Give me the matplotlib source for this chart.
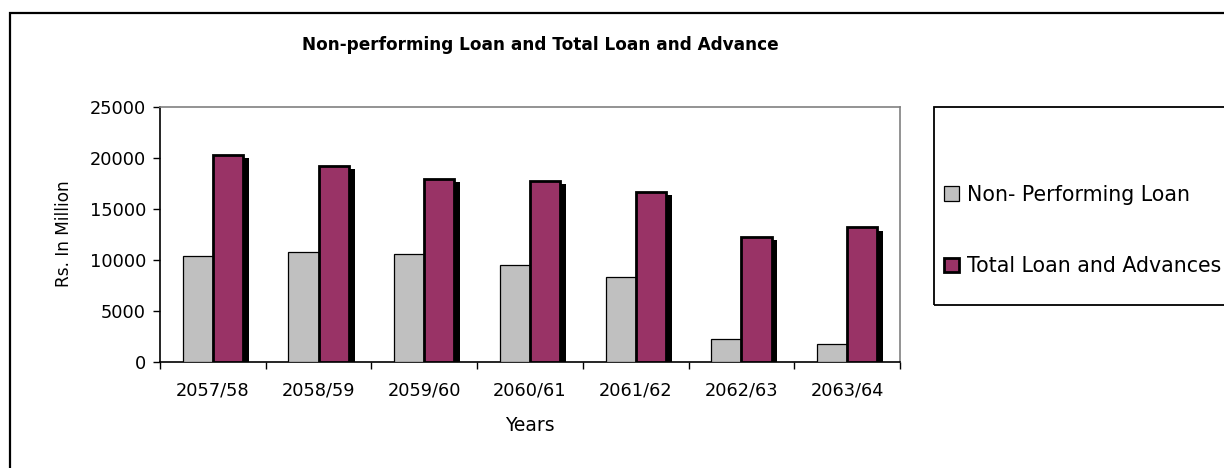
"""
Non-performing loan vs. total loan and advance, 2057/58 - 2063/64.
Clustered bar chart in the old spreadsheet style (shadowed bars, boxed legend).
"""

import numpy as np
import matplotlib
matplotlib.use("Agg")
import matplotlib.pyplot as plt
from matplotlib.patches import Rectangle

# ── Data (Rs. in million) ─────────────────────────────────────────────────────

years = ["2057/58", "2058/59", "2059/60", "2060/61", "2061/62", "2062/63", "2063/64"]
npl = [10350, 10750, 10550, 9450, 8250, 2200, 1700]
total_loan = [20250, 19200, 17900, 17700, 16650, 12250, 13150]

series_labels = ["Non- Performing Loan", "Total Loan and Advances"]
y_ticks = [0, 5000, 10000, 15000, 20000, 25000]

GREY = "#C0C0C0"
PLUM = "#993366"
FS = 12.8

plt.rcParams["font.family"] = ["DejaVu Sans"]

W, H = 1224, 468
fig = plt.figure(figsize=(W / 100, H / 100), dpi=100)

# outer chart frame (runs off the right and bottom edges)
fig.patches.append(Rectangle((10 / W, -0.2), 1.2, 1.2 - 13 / H,
                             transform=fig.transFigure, fill=False,
                             edgecolor="black", linewidth=1.6, clip_on=False))

ax = fig.add_axes([160 / W, 1 - 361.7 / H, 740 / W, 255.2 / H])

x = np.arange(len(years))
w = 1 / 3.5  # gap width 150%

# ── Bars ──────────────────────────────────────────────────────────────────────
b1 = ax.bar(x - w / 2, npl, width=w, color=GREY, edgecolor="black",
            linewidth=0.9, zorder=3)
# drop shadow behind the total bars
ax.bar(x + w / 2 + 0.055, np.array(total_loan) - 300, width=w, color="black",
       linewidth=0, zorder=2)
b2 = ax.bar(x + w / 2, total_loan, width=w, color=PLUM, edgecolor="black",
            linewidth=2.0, zorder=3)

# ── Axes ──────────────────────────────────────────────────────────────────────
ax.set_xlim(-0.5, len(years) - 0.5)
ax.set_ylim(0, 25000)
ax.set_yticks(y_ticks)
ax.set_yticklabels([str(t) for t in y_ticks], fontsize=FS)
ax.set_xticks(x)
ax.set_xticklabels(years, fontsize=FS)
ax.tick_params(axis="x", length=0, pad=14)
ax.set_xticks(np.arange(len(years) + 1) - 0.5, minor=True)
ax.tick_params(axis="x", which="minor", length=5, width=1, direction="out")
ax.tick_params(axis="y", length=5, width=1, direction="out", pad=5)

for side in ("left", "bottom"):
    ax.spines[side].set_color("black")
    ax.spines[side].set_linewidth(1.2)
for side in ("top", "right"):
    ax.spines[side].set_color("#808080")
    ax.spines[side].set_linewidth(1.2)

ax.set_xlabel("Years", fontsize=13.5, labelpad=12)
ax.set_ylabel("Rs. In Million", fontsize=12.2, labelpad=12)

fig.text(540 / W, 1 - 45 / H, "Non-performing Loan and Total Loan and Advance",
         ha="center", va="center", fontsize=12.2, fontweight="bold")

# ── Legend ────────────────────────────────────────────────────────────────────
fig.patches.append(Rectangle((934 / W, 1 - 305 / H), 0.4, 198 / H,
                             transform=fig.transFigure, fill=False,
                             edgecolor="black", linewidth=1.3, clip_on=False))
fig.legend([b1, b2], series_labels, loc="center left",
           bbox_to_anchor=(944 / W, 1 - 230.5 / H), frameon=False,
           fontsize=14.8, borderpad=0, borderaxespad=0, handlelength=0.72,
           handleheight=0.72, handletextpad=0.4, labelspacing=2.5)

fig.savefig("out.png", dpi=100)
